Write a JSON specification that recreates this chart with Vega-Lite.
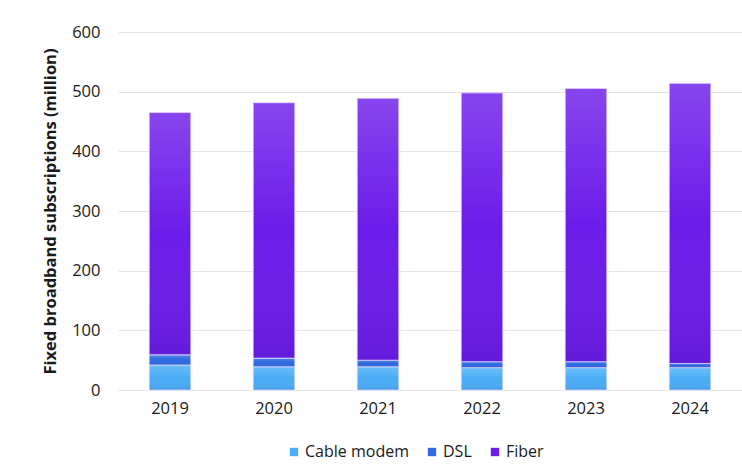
{
  "$schema": "https://vega.github.io/schema/vega-lite/v6.json",
  "autosize": {"type": "none"},
  "width": 624,
  "height": 358,
  "padding": {"left": 118, "top": 32, "right": 0, "bottom": 76},
  "background": "white",
  "config": {
    "font": "Open Sans",
    "view": {"stroke": null}
  },
  "data": {
    "values": [
      {"year": "2019", "type": "Cable modem", "value": 42},
      {"year": "2019", "type": "DSL", "value": 17},
      {"year": "2019", "type": "Fiber", "value": 406},
      {"year": "2020", "type": "Cable modem", "value": 39},
      {"year": "2020", "type": "DSL", "value": 14.5},
      {"year": "2020", "type": "Fiber", "value": 428},
      {"year": "2021", "type": "Cable modem", "value": 39},
      {"year": "2021", "type": "DSL", "value": 11},
      {"year": "2021", "type": "Fiber", "value": 439},
      {"year": "2022", "type": "Cable modem", "value": 37.5},
      {"year": "2022", "type": "DSL", "value": 10},
      {"year": "2022", "type": "Fiber", "value": 450.5},
      {"year": "2023", "type": "Cable modem", "value": 37.5},
      {"year": "2023", "type": "DSL", "value": 10},
      {"year": "2023", "type": "Fiber", "value": 458},
      {"year": "2024", "type": "Cable modem", "value": 37.5},
      {"year": "2024", "type": "DSL", "value": 7},
      {"year": "2024", "type": "Fiber", "value": 469.5}
    ]
  },
  "encoding": {
    "x": {
      "field": "year",
      "type": "ordinal",
      "scale": {"paddingInner": 0.6, "paddingOuter": 0.3},
      "axis": {
        "title": null,
        "labelAngle": 0,
        "labelFontSize": 16.5,
        "labelColor": "#1a1a1a",
        "labelPadding": 10,
        "ticks": false,
        "domain": true,
        "domainColor": "#E6E6E6",
        "domainWidth": 1
      }
    },
    "y": {
      "field": "value",
      "type": "quantitative",
      "aggregate": "sum",
      "stack": "zero",
      "scale": {"domain": [0, 600]},
      "axis": {
        "title": "Fixed broadband subscriptions (million)",
        "titleFontSize": 16.5,
        "titleFontWeight": "bold",
        "titleColor": "#1a1a1a",
        "titlePadding": 13,
        "values": [0, 100, 200, 300, 400, 500, 600],
        "labelFontSize": 16.5,
        "labelColor": "#1a1a1a",
        "labelPadding": 18,
        "ticks": false,
        "domain": false,
        "gridColor": "#E6E6E6",
        "gridWidth": 1
      }
    },
    "order": {"field": "type", "sort": "ascending"}
  },
  "layer": [
    {
      "mark": {"type": "bar", "stroke": "#E6D8FF", "strokeWidth": 0.8},
      "encoding": {
        "color": {
          "field": "type",
          "type": "nominal",
          "scale": {
            "domain": ["Cable modem", "DSL", "Fiber"],
            "range": ["#4AADF6", "#2D6AE0", "#6C1CEA"]
          },
          "legend": {
            "title": null,
            "orient": "none",
            "direction": "horizontal",
            "legendX": 168,
            "legendY": 412,
            "symbolType": "square",
            "symbolSize": 70,
            "symbolStrokeWidth": 0,
            "symbolOpacity": 1,
            "labelFontSize": 16,
            "labelColor": "#1a1a1a",
            "labelOffset": 3,
            "columnPadding": 15
          }
        }
      }
    },
    {
      "mark": {
        "type": "bar",
        "color": {
          "gradient": "linear",
          "x1": 0, "y1": 0, "x2": 0, "y2": 1,
          "stops": [
            {"offset": 0, "color": "rgba(255,255,255,0.18)"},
            {"offset": 0.5, "color": "rgba(255,255,255,0)"},
            {"offset": 1, "color": "rgba(0,0,40,0.08)"}
          ]
        }
      },
      "encoding": {
        "detail": {"field": "type", "type": "nominal"}
      }
    }
  ]
}
